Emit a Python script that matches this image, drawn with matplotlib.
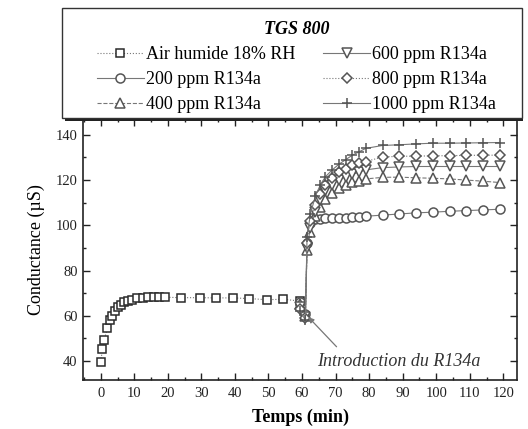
import matplotlib
matplotlib.use("Agg")
import matplotlib.pyplot as plt
from matplotlib.patches import Rectangle
from matplotlib.ticker import MultipleLocator

plt.rcParams['font.family'] = ['Liberation Serif', 'DejaVu Serif']

# ---- data ----
t_air = [0, 0.5, 1, 2, 2.7, 3.5, 4.2, 5.1, 5.9, 6.9, 8.1, 9.4, 10.8, 12.5, 14.1,
         15.8, 17.5, 19.3, 24, 29.5, 34.5, 39.5, 44.3, 49.5, 54.3, 59.5]
v_air = [39.7, 45.2, 49.3, 54.5, 58.1, 60, 62.2, 63.7, 64.9, 65.9, 66.7, 67.1, 67.7,
         68, 68.2, 68.3, 68.3, 68.2, 68, 68, 67.9, 67.9, 67.6, 67.1, 67.3, 66.5]

t_r = [59.5, 61, 61.5, 62.5, 64, 65.5, 67, 69, 71, 73, 75, 77, 79,
       84, 89, 94, 99, 104, 109, 114, 119]
v200 = [66, 61, 92, 101, 102.8, 103, 103.1, 103.2, 103.3, 103.4, 103.5, 103.7, 104,
        104.5, 105, 105.5, 105.8, 106.2, 106.5, 106.8, 107.1]
v400 = [65, 60, 89, 97, 104, 108, 111.5, 114.5, 116.5, 118, 119, 119.8, 120.5,
        121.2, 121.3, 121, 120.8, 120.5, 120, 119.5, 118.9]
v600 = [64, 59.5, 90, 99, 106, 111, 115, 118, 120, 121.5, 122.5, 123.5, 124.5,
        125.5, 125.8, 126, 126, 126, 126, 126, 126]
v800 = [63, 59, 92, 102, 109, 114, 118, 121, 123.5, 125, 126.5, 127.5, 128.2,
        130.2, 130.5, 130.6, 130.7, 130.8, 130.9, 131, 131]
v1000 = [62, 58, 95, 105, 113, 118, 121.5, 124.5, 127, 129, 131, 132.5, 134,
         135.3, 135.6, 136, 136.3, 136.3, 136.4, 136.5, 136.6]

labels = ["Air humide 18% RH", "200 ppm R134a", "400 ppm R134a",
          "600 ppm R134a", "800 ppm R134a", "1000 ppm R134a"]
markers = ["s", "o", "^", "v", "D", "+"]
styles = [":", "-", "--", "-", ":", "-"]
sizes = [6, 6.5, 6.5, 6.5, 5, 7]

x_ticks = list(range(0, 121, 10))
y_ticks = [40, 60, 80, 100, 120, 140]

fig = plt.figure(figsize=(5.28, 4.29), dpi=100)
ax = fig.add_axes([83.3 / 528, 1 - 380 / 429, (516.7 - 83.3) / 528, (380 - 119) / 429])

series = [(t_air, v_air), (t_r, v200), (t_r, v400), (t_r, v600), (t_r, v800), (t_r, v1000)]
handles = []
for i, (t, v) in enumerate(series):
    mc = "#2a2a2a" if i == 0 else "#555555"
    h, = ax.plot(t, v, linestyle=styles[i], color="#777777", linewidth=0.8,
                 marker=markers[i], markersize=sizes[i], markerfacecolor="white"
                 if markers[i] != "+" else mc,
                 markeredgecolor=mc, markeredgewidth=1.1, label=labels[i])
    handles.append(h)

ax.set_xlim(-5.2, 124)
ax.set_ylim(31.6, 147)
ax.set_xticks(x_ticks)
ax.set_yticks(y_ticks)
ax.xaxis.set_minor_locator(MultipleLocator(5))
ax.yaxis.set_minor_locator(MultipleLocator(10))
ax.tick_params(which="both", direction="in", top=True, right=True, labelsize=10.5,
               width=1.0, colors="#222222")
ax.tick_params(which="major", length=5)
ax.tick_params(which="minor", length=2.5)
ax.tick_params(axis="x", pad=5)
ax.tick_params(axis="y", pad=4)
for s in ax.spines.values():
    s.set_linewidth(1.2)
    s.set_color("#222222")

ax.set_xlabel("Temps (min)", fontsize=13, fontweight="bold", labelpad=6)
ax.set_ylabel("Conductance (µS)", fontsize=13, labelpad=8)

ax.text(64.5, 40, "Introduction du R134a", fontsize=13, fontstyle="italic",
        color="#333333", va="center", ha="left")
ax.annotate("", xy=(61.9, 59.4), xytext=(70.3, 46.3),
            arrowprops=dict(arrowstyle="-|>", color="#777777", lw=0.9,
                            mutation_scale=8, shrinkA=0, shrinkB=0))

# legend box with shadow
fig.patches.append(Rectangle((65 / 528, 1 - 121 / 429), 458 / 528, 110 / 429,
                             transform=fig.transFigure, facecolor="#222222",
                             edgecolor="none", zorder=5))
fig.patches.append(Rectangle((62 / 528, 1 - 118 / 429), 460 / 528, 110 / 429,
                             transform=fig.transFigure, facecolor="white",
                             edgecolor="#333333", linewidth=1.0, zorder=6))

leg = fig.legend(handles=handles, labels=labels, ncol=2, loc="upper left",
                 bbox_to_anchor=(97 / 528, 1 - 21 / 429), frameon=False,
                 fontsize=13, handlelength=2.6, handletextpad=0.1,
                 columnspacing=1.55, labelspacing=0.44, borderpad=0,
                 borderaxespad=0, title="TGS 800",
                 title_fontproperties=dict(size=13, weight="bold", style="italic"))
leg.set_zorder(7)

fig.savefig("out.png", dpi=100)
